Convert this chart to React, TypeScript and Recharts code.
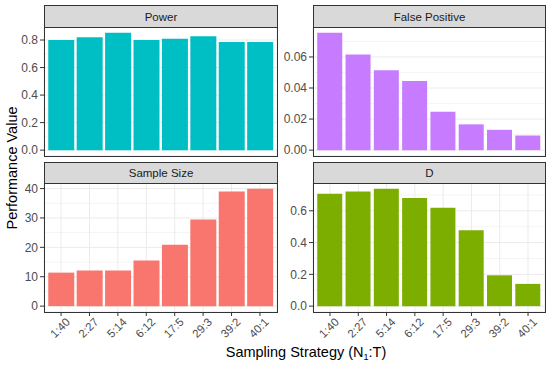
import {
  Bar,
  BarChart,
  CartesianGrid,
  XAxis,
  YAxis,
} from "recharts";

const strategies = ["1:40", "2:27", "5:14", "6:12", "17:5", "29:3", "39:2", "40:1"];

const power = [0.8, 0.82, 0.852, 0.8, 0.81, 0.827, 0.785, 0.785];
const falsePositive = [0.0755, 0.0615, 0.0515, 0.0445, 0.0247, 0.0166, 0.0131, 0.0094];
const sampleSize = [11.4, 12.1, 12.1, 15.5, 20.9, 29.5, 39.0, 39.9];
const dValue = [0.708, 0.721, 0.738, 0.681, 0.619, 0.477, 0.194, 0.14];

const powerTicks = [0, 0.2, 0.4, 0.6, 0.8];
const fpTicks = [0, 0.02, 0.04, 0.06];
const sampleTicks = [0, 10, 20, 30, 40];
const dTicks = [0, 0.2, 0.4, 0.6];

const powerMinor = [0.1, 0.3, 0.5, 0.7];
const fpMinor = [0.01, 0.03, 0.05, 0.07];
const sampleMinor = [5, 15, 25, 35];
const dMinor = [0.1, 0.3, 0.5, 0.7];

const FONT = "'Liberation Sans', Arial, sans-serif";

interface PanelProps {
  title: string;
  values: number[];
  ticks: number[];
  minor: number[];
  decimals: number;
  color: string;
  left: number; // plot left
  right: number; // plot right
  stripTop: number;
  plotTop: number;
  plotBottom: number;
  showX: boolean;
}

// ggplot-style 5% expansion around [0, max]
function expandDomain(values: number[]): [number, number] {
  const max = Math.max(...values);
  return [-0.05 * max, max * 1.05];
}

function RotatedTick(props: any) {
  const { x, y, payload } = props;
  return (
    <g transform={`translate(${x + 4},${y - 1})`}>
      <text
        x={0}
        y={0}
        dy="0.7em"
        textAnchor="end"
        transform="rotate(-45)"
        fill="#4d4d4d"
        fontSize={11.5}
        fontFamily={FONT}
      >
        {payload.value}
      </text>
    </g>
  );
}

function Panel(p: PanelProps) {
  const rows = strategies.map((s, i) => ({ strategy: s, value: p.values[i] }));
  const yAxisW = 44;
  const chartLeft = p.left - yAxisW;
  const plotW = p.right - p.left;
  const plotH = p.plotBottom - p.plotTop;
  const xAxisH = p.showX ? 50 : 0;
  const pad = plotW / 82;

  return (
    <>
      <div
        style={{
          position: "absolute",
          left: p.left,
          top: p.stripTop,
          width: plotW + 1,
          height: p.plotTop - p.stripTop + 1,
          boxSizing: "border-box",
          background: "#d9d9d9",
          border: "1px solid #333",
          fontFamily: FONT,
          fontSize: 11.5,
          fontWeight: 400,
          color: "#1a1a1a",
          display: "flex",
          alignItems: "center",
          justifyContent: "center",
        }}
      >
        {p.title}
      </div>
      <div style={{ position: "absolute", left: chartLeft, top: p.plotTop }}>
        <BarChart
          width={yAxisW + plotW + 1}
          height={plotH + xAxisH}
          data={rows}
          margin={{ top: 0, right: 1, bottom: 0, left: 0 }}
          barCategoryGap="5%"
        >
          <CartesianGrid stroke="#f4f4f4" vertical={false} horizontalValues={p.minor} />
          <CartesianGrid stroke="#ebebeb" />
          <XAxis
            dataKey="strategy"
            height={xAxisH}
            padding={{ left: pad, right: pad }}
            axisLine={false}
            tickLine={p.showX ? { stroke: "#333" } : false}
            tickSize={p.showX ? 4 : 0}
            tickMargin={2}
            interval={0}
            tick={p.showX ? <RotatedTick /> : false}
          />
          <YAxis
            type="number"
            width={yAxisW}
            domain={expandDomain(p.values)}
            ticks={p.ticks}
            interval={0}
            allowDataOverflow
            axisLine={false}
            tickLine={{ stroke: "#333" }}
            tickSize={4}
            tickMargin={2}
            tick={{ fill: "#4d4d4d", fontSize: 12, fontFamily: FONT }}
            tickFormatter={(v: number) => v.toFixed(p.decimals)}
          />
          <Bar dataKey="value" fill={p.color} isAnimationActive={false} />
        </BarChart>
      </div>
      <div
        style={{
          position: "absolute",
          left: p.left,
          top: p.plotTop,
          width: plotW + 1,
          height: plotH + 1,
          boxSizing: "border-box",
          border: "1px solid #333",
          pointerEvents: "none",
        }}
      />
    </>
  );
}

export default function App() {
  return (
    <div
      style={{
        position: "absolute",
        left: 0,
        top: 0,
        width: 550,
        height: 365,
        background: "#fff",
        overflow: "hidden",
        fontFamily: FONT,
      }}
    >
      <Panel
        title="Power"
        values={power}
        ticks={powerTicks}
        minor={powerMinor}
        decimals={1}
        color="#00BFC4"
        left={44}
        right={277}
        stripTop={5}
        plotTop={27}
        plotBottom={156}
        showX={false}
      />
      <Panel
        title="False Positive"
        values={falsePositive}
        ticks={fpTicks}
        minor={fpMinor}
        decimals={2}
        color="#C77CFF"
        left={313}
        right={545}
        stripTop={5}
        plotTop={27}
        plotBottom={156}
        showX={false}
      />
      <Panel
        title="Sample Size"
        values={sampleSize}
        ticks={sampleTicks}
        minor={sampleMinor}
        decimals={0}
        color="#F8766D"
        left={44}
        right={277}
        stripTop={162}
        plotTop={183}
        plotBottom={312}
        showX={true}
      />
      <Panel
        title="D"
        values={dValue}
        ticks={dTicks}
        minor={dMinor}
        decimals={1}
        color="#7CAE00"
        left={313}
        right={545}
        stripTop={162}
        plotTop={183}
        plotBottom={312}
        showX={true}
      />
      <div
        style={{
          position: "absolute",
          left: 0,
          top: 352,
          width: 612,
          textAlign: "center",
          fontSize: 14.5,
          color: "#000",
          lineHeight: "16px",
          transform: "translateY(-50%)",
        }}
      >
        Sampling Strategy (N<sub style={{ fontSize: 9, verticalAlign: "-3px", lineHeight: 0 }}>1</sub>:T)
      </div>
      <div
        style={{
          position: "absolute",
          left: 12,
          top: 168,
          fontSize: 14.5,
          color: "#000",
          whiteSpace: "nowrap",
          transform: "translate(-50%, -50%) rotate(-90deg)",
        }}
      >
        Performance Value
      </div>
    </div>
  );
}
